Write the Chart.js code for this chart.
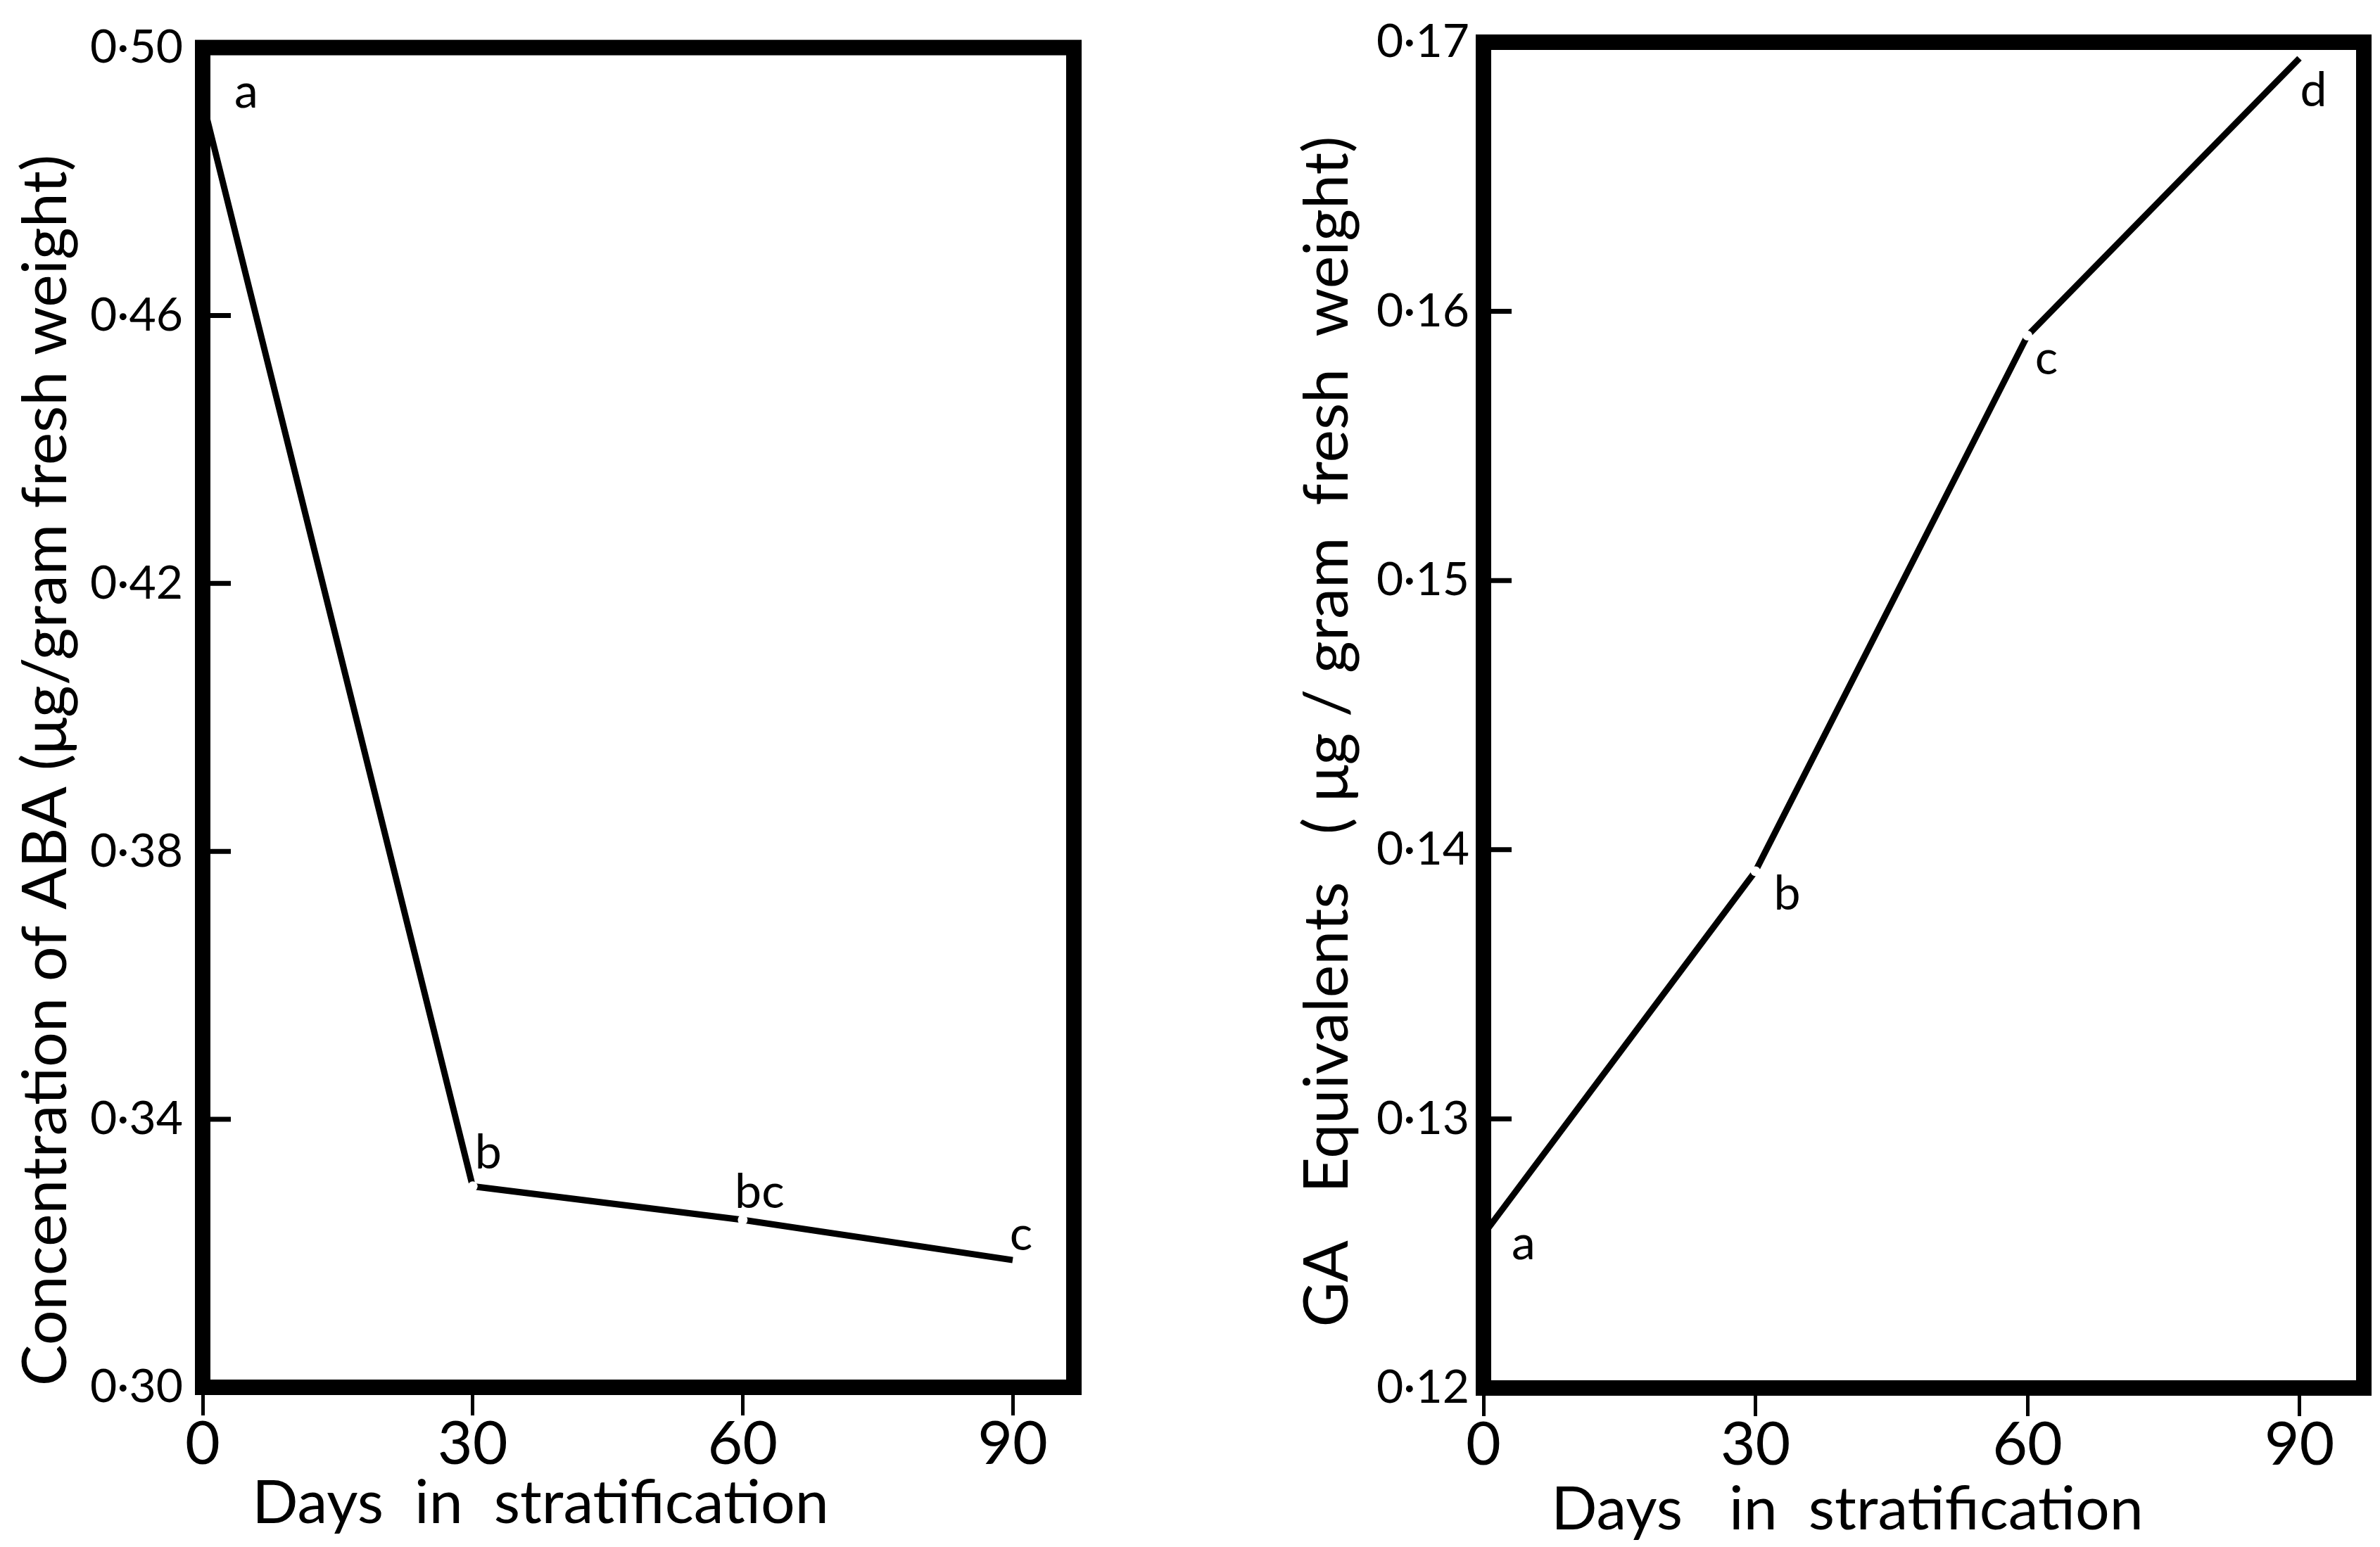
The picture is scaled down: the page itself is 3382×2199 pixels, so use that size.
<!DOCTYPE html>
<html>
<head>
<meta charset="utf-8">
<script src="https://cdn.jsdelivr.net/npm/chart.js@4.4.1/dist/chart.umd.min.js"></script>
<style>
  html, body { margin: 0; padding: 0; background: #fff; }
  #wrap { position: relative; width: 3382px; height: 2199px; }
  .box { position: absolute; top: 0; height: 2199px; }
</style>
</head>
<body>
<div id="wrap">
  <div class="box" style="left:0;width:1700px"><canvas id="aba-chart" width="1700" height="2199"></canvas></div>
  <div class="box" style="left:1700px;width:1682px"><canvas id="ga-chart" width="1682" height="2199"></canvas></div>
</div>
<script>
// values
const days = [0, 30, 60, 90];
const dayTicks = [0, 30, 60, 90];

const abaValues = [0.492, 0.330, 0.325, 0.319];
const abaLetters = ['a', 'b', 'bc', 'c'];
const abaTicks = [0.30, 0.34, 0.38, 0.42, 0.46, 0.50];

const gaValues = [0.1257, 0.1392, 0.1591, 0.1694];
const gaLetters = ['a', 'b', 'c', 'd'];
const gaTicks = [0.12, 0.13, 0.14, 0.15, 0.16, 0.17];

const FONT = 'Lato, "Open Sans", sans-serif';

// frame, inward y ticks, letters and axis titles
const framePlugin = {
    id: 'frame',
    afterDraw(chart, args, opts) {
        const ctx = chart.ctx;
        const area = chart.chartArea;
        const yScale = chart.scales.y;
        ctx.save();
        ctx.strokeStyle = '#000';
        ctx.fillStyle = '#000';

        // inward ticks
        ctx.lineWidth = 7;
        opts.yTicks.slice(1, -1).forEach(v => {
            const py = yScale.getPixelForValue(v);
            ctx.beginPath();
            ctx.moveTo(area.left, py);
            ctx.lineTo(area.left + 40, py);
            ctx.stroke();
        });

        // heavy box
        ctx.lineWidth = 22;
        ctx.strokeRect(area.left, area.top, area.right - area.left, area.bottom - area.top);

        // significance letters
        const meta = chart.getDatasetMeta(0);
        ctx.font = '68px ' + FONT;
        ctx.textAlign = 'center';
        ctx.textBaseline = 'middle';
        meta.data.forEach((pt, i) => {
            const off = opts.offsets[i];
            ctx.fillText(opts.letters[i], pt.x + off[0], pt.y + off[1]);
        });

        // axis titles
        ctx.font = '86px ' + FONT;
        ctx.textBaseline = 'alphabetic';
        ctx.fillText(opts.xTitle, opts.xTitlePos[0], opts.xTitlePos[1]);
        ctx.translate(opts.yTitlePos[0], opts.yTitlePos[1]);
        ctx.rotate(-Math.PI / 2);
        ctx.font = '88px ' + FONT;
        ctx.fillText(opts.yTitle, 0, 0);
        ctx.restore();
    }
};

function makeConfig(values, yTicks, yMin, yMax, xMax, frame, sizes) {
    return {
        type: 'line',
        data: {
            labels: days,
            datasets: [{
                data: days.map((d, i) => ({ x: d, y: values[i] })),
                borderColor: '#000',
                borderWidth: 9,
                tension: 0,
                pointRadius: [0, 7, 7, 0],
                pointBackgroundColor: '#fff',
                pointBorderWidth: 0,
                pointHoverRadius: 0
            }]
        },
        options: {
            responsive: false,
            animation: false,
            devicePixelRatio: 1,
            layout: { padding: { top: sizes.top, right: sizes.right, left: 0, bottom: 0 } },
            plugins: {
                legend: { display: false },
                tooltip: { enabled: false },
                frame: frame
            },
            scales: {
                x: {
                    type: 'linear',
                    min: 0,
                    max: xMax,
                    afterBuildTicks: s => { s.ticks = dayTicks.map(v => ({ value: v })); },
                    afterFit: s => { s.height = sizes.xHeight; },
                    grid: { drawOnChartArea: false, drawTicks: true, tickLength: 40, color: '#000', lineWidth: 5 },
                    border: { display: false },
                    ticks: { color: '#000', padding: -10, maxRotation: 0, font: { family: FONT, size: 86 } }
                },
                y: {
                    min: yMin,
                    max: yMax,
                    afterBuildTicks: s => { s.ticks = yTicks.map(v => ({ value: v })); },
                    afterFit: s => { s.width = sizes.yWidth; },
                    grid: { display: false, drawTicks: false },
                    border: { display: false },
                    ticks: {
                        color: '#000',
                        padding: sizes.yPad,
                        font: { family: FONT, size: 66 },
                        callback: v => v.toFixed(2).replace('.', '·')
                    }
                }
            }
        },
        plugins: [framePlugin]
    };
}

new Chart(document.querySelector('#aba-chart'), makeConfig(
    abaValues, abaTicks, 0.30, 0.50, 96.8,
    {
        letters: abaLetters,
        offsets: [[62, -13], [22, -47], [24, -39], [12, -36]],
        yTicks: abaTicks,
        xTitle: 'Days  in  stratification',
        xTitlePos: [768, 2165],
        yTitle: 'Concentration of ABA (μg/gram fresh weight)',
        yTitlePos: [94, 1095]
    },
    { top: 50, right: 174, xHeight: 227, yWidth: 288, yPad: 28 }
));

new Chart(document.querySelector('#ga-chart'), makeConfig(
    gaValues, gaTicks, 0.12, 0.17, 97.1,
    {
        letters: gaLetters,
        offsets: [[57, 13], [45, 33], [27, 33], [20, 46]],
        yTicks: gaTicks,
        xTitle: 'Days   in  stratification',
        xTitlePos: [925, 2174],
        yTitle: 'GA   Equivalents   ( μg / gram  fresh  weight)',
        yTitlePos: [215, 1040]
    },
    { top: 60, right: 23, xHeight: 226, yWidth: 408, yPad: 20 }
));
</script>
</body>
</html>
